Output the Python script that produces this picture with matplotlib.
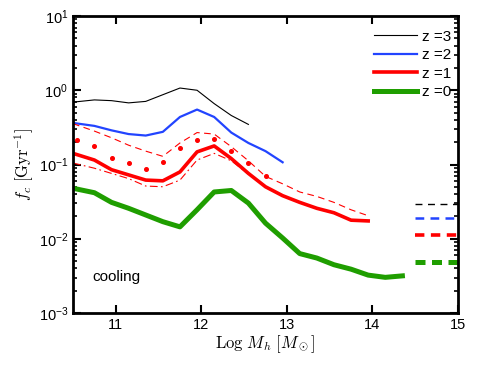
import numpy as np
import matplotlib
matplotlib.use('Agg')
import matplotlib.pyplot as plt
from matplotlib.ticker import LogLocator, NullFormatter, FixedLocator

plt.rcParams['font.family'] = ['Liberation Sans', 'DejaVu Sans']
plt.rcParams['mathtext.fontset'] = 'cm'

# halo mass bins (log M_h)
mass = [10.5, 10.75, 10.95, 11.15, 11.35, 11.55, 11.75, 11.95, 12.15, 12.35,
        12.55, 12.75, 12.95, 13.15, 13.35, 13.55, 13.75, 13.95, 14.15, 14.35]

# log10 of cooling rate f_c [Gyr^-1]
logf_z3 = [-0.16, -0.13, -0.14, -0.17, -0.15, -0.06, 0.03, 0.00, -0.18, -0.34, -0.46]
logf_z2 = [-0.44, -0.48, -0.54, -0.59, -0.61, -0.56, -0.36, -0.26, -0.36, -0.57,
           -0.71, -0.82, -0.97]
logf_z1 = [-0.85, -0.94, -1.07, -1.14, -1.21, -1.22, -1.10, -0.83, -0.75, -0.92,
           -1.12, -1.30, -1.42, -1.51, -1.59, -1.65, -1.75, -1.76]
logf_z0 = [-1.32, -1.38, -1.51, -1.59, -1.68, -1.77, -1.84, -1.61, -1.37, -1.35,
           -1.52, -1.79, -1.99, -2.20, -2.26, -2.35, -2.41, -2.49, -2.52, -2.50]

# z=1 variants
logf_z1_dash = [-0.45, -0.55, -0.64, -0.74, -0.82, -0.89, -0.71, -0.57, -0.59, -0.76,
                -0.95, -1.16, -1.26, -1.37, -1.43, -1.51, -1.61, -1.69]
logf_z1_dot = [-0.67, -0.75, -0.91, -0.98, -1.06, -0.96, -0.78, -0.67, -0.66, -0.82,
               -0.98, -1.16]
logf_z1_dashdot = [-0.98, -1.05, -1.12, -1.19, -1.29, -1.30, -1.21, -0.94, -0.85, -0.95,
                   -1.13]

# reference levels at the right edge
ref_x = [14.5, 15.0]
ref_z3 = 0.029
ref_z2 = 0.0188
ref_z1 = 0.0112
ref_z0 = 0.0049

blue = '#2244ff'
red = '#ff0000'
green = '#1f9e00'


def pw(v):
    return 10 ** np.array(v)


fig = plt.figure(figsize=(4.91, 3.69), dpi=100)
ax = fig.add_axes([0.1487, 0.1518, 0.7841, 0.8048])

ax.plot(mass[:len(logf_z3)], pw(logf_z3), color='k', lw=0.8, label='z =3')
ax.plot(mass[:len(logf_z2)], pw(logf_z2), color=blue, lw=1.6, label='z =2')
ax.plot(mass[:len(logf_z1)], pw(logf_z1), color=red, lw=2.6, label='z =1')
ax.plot(mass[:len(logf_z0)], pw(logf_z0), color=green, lw=3.6, label='z =0')

ax.plot(mass[:len(logf_z1_dash)], pw(logf_z1_dash), color=red, lw=0.8, ls=(0, (6, 4)))
ax.plot([10.55] + mass[1:len(logf_z1_dot)], pw(logf_z1_dot), color=red, lw=0,
        marker='o', ms=2.6)
ax.plot(mass[:len(logf_z1_dashdot)], pw(logf_z1_dashdot), color=red, lw=0.8,
        ls=(0, (7, 3, 1.5, 3)))

ax.plot(ref_x, [ref_z3] * 2, color='k', lw=1.0, ls=(0, (5, 4)))
ax.plot(ref_x, [ref_z2] * 2, color=blue, lw=1.8, ls=(0, (3.5, 2.5)))
ax.plot(ref_x, [ref_z1] * 2, color=red, lw=2.6, ls=(0, (2.6, 1.8)))
ax.plot(ref_x, [ref_z0] * 2, color=green, lw=3.6, ls=(0, (2, 1.3)))

ax.set_yscale('log')
ax.set_xlim(10.5, 15)
ax.set_ylim(1e-3, 1e1)
ax.xaxis.set_major_locator(FixedLocator([11, 12, 13, 14, 15]))
ax.yaxis.set_major_locator(LogLocator(base=10, numticks=10))
ax.yaxis.set_minor_locator(LogLocator(base=10, subs=np.arange(2, 10), numticks=10))
ax.yaxis.set_minor_formatter(NullFormatter())
ax.tick_params(which='both', direction='in', top=True, right=True, labelsize=10.5)
ax.tick_params(which='major', length=6, width=1.5)
ax.tick_params(which='minor', length=3, width=1.2)
for s in ax.spines.values():
    s.set_linewidth(2)

ax.set_xlabel(r'$\mathrm{Log}\ M_h\ [M_\odot]$', fontsize=12, labelpad=1)
ax.set_ylabel(r'$f_c\ [\mathrm{Gyr}^{-1}]$', fontsize=12, labelpad=2)

ax.text(10.73, 10 ** -2.52, 'cooling', fontsize=11, va='center')

ax.legend(loc='upper right', frameon=False, fontsize=11, handlelength=2.8,
          handletextpad=0.3, labelspacing=0.3, borderaxespad=0.2,
          bbox_to_anchor=(1.005, 0.985))

fig.savefig('out.png', dpi=100)
